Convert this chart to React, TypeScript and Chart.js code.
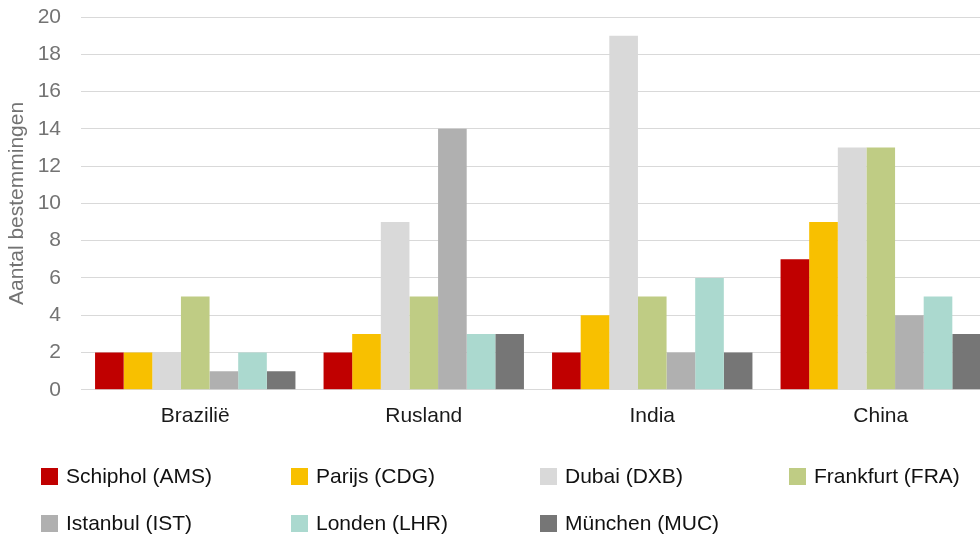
import React, { useEffect, useRef } from "react";
import { Chart, registerables } from "chart.js";

Chart.register(...registerables);

const categories = ["Brazilië", "Rusland", "India", "China"];
const seriesNames = [
  "Schiphol (AMS)",
  "Parijs (CDG)",
  "Dubai (DXB)",
  "Frankfurt (FRA)",
  "Istanbul (IST)",
  "Londen (LHR)",
  "München (MUC)",
];
const schiphol = [2, 2, 2, 7];
const parijs = [2, 3, 4, 9];
const dubai = [2, 9, 19, 13];
const frankfurt = [5, 5, 5, 13];
const istanbul = [1, 14, 2, 4];
const londen = [2, 3, 6, 5];
const munchen = [1, 3, 2, 3];
const seriesValues = [schiphol, parijs, dubai, frankfurt, istanbul, londen, munchen];
const colors = ["#C00000", "#F8C000", "#D9D9D9", "#BFCC84", "#B0B0B0", "#ABD9CF", "#767676"];
const yTitle = "Aantal bestemmingen";

const FONT = "'Liberation Sans', Arial, sans-serif";

export default function App() {
  const ref = useRef<HTMLCanvasElement | null>(null);

  useEffect(() => {
    if (!ref.current) return;
    const chart = new Chart(ref.current, {
      type: "bar",
      data: {
        labels: categories,
        datasets: seriesNames.map((name, i) => ({
          label: name,
          data: seriesValues[i],
          backgroundColor: colors[i],
          borderWidth: 0,
          barPercentage: 1,
          categoryPercentage: 0.877,
        })),
      },
      options: {
        responsive: false,
        animation: false,
        layout: { padding: { top: 17, right: 15, bottom: 100, left: 0 } },
        plugins: {
          legend: { display: false },
          tooltip: { enabled: false },
        },
        scales: {
          x: {
            grid: { display: false },
            border: { display: true, color: "#D9D9D9", width: 1 },
            ticks: {
              color: "#1a1a1a",
              font: { family: FONT, size: 21 },
              padding: 6,
            },
          },
          y: {
            min: 0,
            max: 20,
            ticks: {
              stepSize: 2,
              color: "#737373",
              font: { family: FONT, size: 21 },
              padding: 20,
            },
            grid: { color: "#D9D9D9", lineWidth: 1, drawTicks: false },
            border: { display: false },
            title: {
              display: true,
              text: yTitle,
              color: "#737373",
              font: { family: FONT, size: 21 },
              padding: { top: 5, bottom: 0 },
            },
            afterFit: (scale: any) => {
              scale.width = 81;
              scale.paddingTop = 0;
              scale.paddingBottom = 0;
            },
          },
        },
      },
    });
    return () => chart.destroy();
  }, []);

  const colLeft = [41, 291, 540, 789];
  const rowCenter = [476, 523];

  return (
    <div
      style={{
        position: "absolute",
        left: 0,
        top: 0,
        width: 980,
        height: 535,
        overflow: "hidden",
        background: "#fff",
      }}
    >
      <canvas ref={ref} width={1010} height={535} style={{ display: "block", width: 1010, height: 535 }} />
      {seriesNames.map((name, i) => {
        const row = Math.floor(i / 4);
        const col = i % 4;
        return (
          <div
            key={name}
            style={{
              position: "absolute",
              left: colLeft[col],
              top: rowCenter[row] - 12,
              height: 24,
              display: "flex",
              alignItems: "center",
              whiteSpace: "nowrap",
              fontFamily: FONT,
              fontSize: 21,
              color: "#111",
            }}
          >
            <span style={{ display: "inline-block", width: 17, height: 17, background: colors[i], marginRight: 8 }} />
            <span>{name}</span>
          </div>
        );
      })}
    </div>
  );
}
